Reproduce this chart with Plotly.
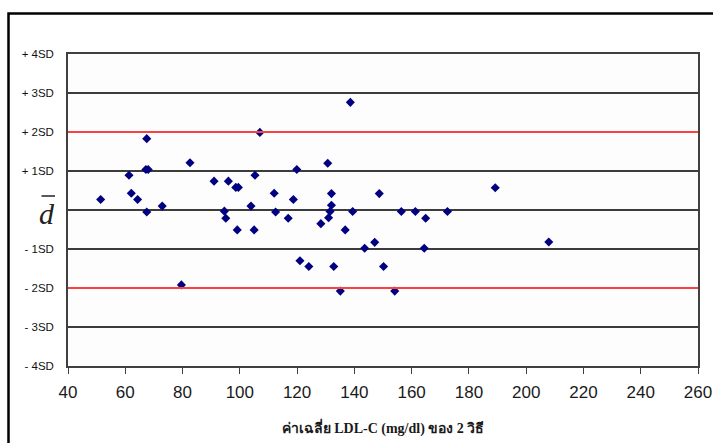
import plotly.graph_objects as go

# Mean LDL-C of the two methods (mg/dl)
mean_ldl = [51.4, 61.3, 62.1, 64.3, 67.2, 68.0, 67.5, 67.5, 72.9, 79.6,
            82.6, 91.0, 94.6, 95.1, 96.0, 98.6, 99.5, 99.1, 103.9, 105.0,
            105.3, 107.0, 112.0, 112.5, 116.9, 118.7, 119.9, 121.0, 124.1, 128.3,
            130.7, 131.0, 131.5, 132.0, 132.0, 132.8, 135.1, 136.8, 138.6, 139.4,
            143.6, 147.1, 148.7, 150.2, 154.1, 156.4, 161.3, 164.4, 164.9, 172.5,
            189.2, 207.9]
# Difference expressed in SD units from the mean difference
diff_sd = [0.27, 0.89, 0.43, 0.27, 1.04, 1.04, 1.83, -0.05, 0.10, -1.92,
           1.21, 0.74, -0.03, -0.21, 0.74, 0.58, 0.58, -0.51, 0.10, -0.51,
           0.89, 1.99, 0.43, -0.05, -0.21, 0.27, 1.04, -1.30, -1.45, -0.35,
           1.20, -0.20, -0.04, 0.12, 0.42, -1.45, -2.08, -0.51, 2.76, -0.04,
           -0.98, -0.83, 0.42, -1.45, -2.08, -0.04, -0.04, -0.98, -0.21, -0.04,
           0.57, -0.82]

y_tickvals = [4, 3, 2, 1, 0, -1, -2, -3, -4]
y_ticktext = ["+ 4SD", "+ 3SD", "+ 2SD", "+ 1SD", "", "- 1SD", "- 2SD", "- 3SD", "- 4SD"]
x_tickvals = [40, 60, 80, 100, 120, 140, 160, 180, 200, 220, 240, 260]
limit_lines = [2, -2]
x_title = "ค่าเฉลี่ย LDL-C (mg/dl) ของ 2 วิธี"

fig = go.Figure()
fig.add_trace(go.Scatter(
    x=mean_ldl, y=diff_sd, mode="markers",
    marker=dict(symbol="diamond", size=7, color="#000080"),
    showlegend=False, cliponaxis=False,
))

shapes = []
for v in limit_lines:
    shapes.append(dict(type="line", xref="paper", yref="y", x0=0, x1=1, y0=v, y1=v,
                       line=dict(color="#ff4040", width=2), layer="above"))

py_to_paper = lambda py: (366 - py) / 312
px_to_paper = lambda px: (px - 68) / 630

# d-bar overline
shapes.append(dict(type="line", xref="paper", yref="paper",
                   x0=px_to_paper(41.5), x1=px_to_paper(55),
                   y0=py_to_paper(196), y1=py_to_paper(196),
                   line=dict(color="#222", width=1.5)))
# outer frame (top and left edges visible)
shapes.append(dict(type="rect", xref="paper", yref="paper",
                   x0=px_to_paper(8.5), x1=px_to_paper(740),
                   y0=py_to_paper(480), y1=py_to_paper(13.5),
                   line=dict(color="black", width=2.5), fillcolor="rgba(0,0,0,0)"))

fig.update_layout(
    width=713, height=443,
    margin=dict(l=68, r=15, t=54, b=77),
    paper_bgcolor="white", plot_bgcolor="#fdfdfd",
    xaxis=dict(
        range=[40, 260], tickvals=x_tickvals, showgrid=False, zeroline=False,
        showline=True, linecolor="#404040", linewidth=1.5, mirror=True,
        ticks="outside", ticklen=6, tickcolor="#404040", tickwidth=1.2,
        ticklabelstandoff=4, ticklabeloverflow="allow", automargin=False,
        tickfont=dict(family="Liberation Sans, Arial, sans-serif", size=17, color="#1a1a1a"),
        title=dict(text="<b>" + x_title + "</b>", standoff=22,
                   font=dict(family="Liberation Serif, Times New Roman, serif", size=14, color="#1a1a1a")),
    ),
    yaxis=dict(
        range=[-4, 4], tickvals=y_tickvals, ticktext=y_ticktext,
        showgrid=True, gridcolor="#3c3c3c", gridwidth=2, zeroline=False,
        showline=True, linecolor="#404040", linewidth=1.5, mirror=True,
        ticks="", ticklabelstandoff=10, automargin=False,
        tickfont=dict(family="Liberation Sans, Arial, sans-serif", size=11.5, color="#111"),
    ),
    annotations=[dict(
        text="<i>d</i>", xref="paper", yref="y", x=px_to_paper(47), y=0,
        xanchor="center", yanchor="middle", yshift=-3,
        showarrow=False, font=dict(family="Liberation Serif, Times New Roman, serif", size=30, color="#222"),
    )],
    shapes=shapes,
)

fig.write_html("out.html")
